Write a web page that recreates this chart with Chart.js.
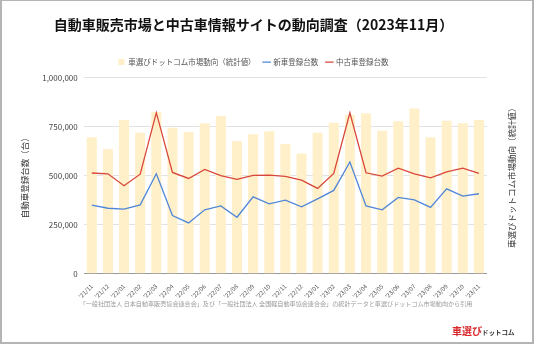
<!DOCTYPE html>
<html>
<head>
<meta charset="utf-8">
<script src="https://cdn.jsdelivr.net/npm/chart.js@4"></script>
<style>
  body { margin: 0; background: #fff; }
  #wrap { position: relative; width: 536px; height: 345px; font-family: "Noto Sans CJK JP", sans-serif; }
  #frame { position: absolute; left: 0; top: 0; width: 534px; height: 344px; border: 1px solid #b4b4b4; border-width: 1px 2px 2px 2px; box-sizing: border-box; pointer-events: none; }
  #source { position: absolute; left: 0; width: 552px; top: 299px; text-align: center; font-size: 6.1px; color: #999; }
  #logo { position: absolute; left: 452px; top: 316px; font-weight: bold; white-space: nowrap; }
  #logo .a { color: #d8262a; font-size: 10px; }
  #logo .b { color: #333; font-size: 6.5px; }
</style>
</head>
<body>
<div id="wrap">
  <canvas id="chart" width="536" height="345"></canvas>
  <div id="source">「一般社団法人 日本自動車販売協会連合会」及び「一般社団法人 全国軽自動車協会連合会」の統計データと車選びドットコム市場動向から引用</div>
  <div id="logo"><span class="a">車選び</span><span class="b">ドットコム</span></div>
  <div id="frame"></div>
</div>
<script>
const months = ["'21/11", "'21/12", "'22/01", "'22/02", "'22/03", "'22/04", "'22/05", "'22/06", "'22/07", "'22/08", "'22/09", "'22/10", "'22/11", "'22/12",
    "'23/01", "'23/02", "'23/03", "'23/04", "'23/05", "'23/06", "'23/07", "'23/08", "'23/09", "'23/10", "'23/11"];

// 車選びドットコム市場動向（統計値）
const marketTrend = [696000, 636000, 785000, 720000, 826000, 745000, 723000, 768000, 805000, 677000, 712000, 727000, 662000, 614000,
    720000, 771000, 810000, 819000, 730000, 778000, 843000, 696000, 781000, 768000, 785000];
// 新車登録台数
const newCars = [350000, 334000, 329000, 351000, 510000, 297000, 259000, 326000, 346000, 288000, 392000, 356000, 375000, 341000,
    382000, 425000, 570000, 346000, 326000, 389000, 377000, 338000, 433000, 396000, 408000];
// 中古車登録台数
const usedCars = [514000, 510000, 449000, 508000, 822000, 517000, 486000, 532000, 500000, 481000, 502000, 503000, 497000, 477000,
    435000, 512000, 821000, 515000, 498000, 539000, 510000, 489000, 520000, 539000, 512000];

const yTicks = [0, 250000, 500000, 750000, 1000000];

// right side title, reads bottom to top like the left one
const rightTitle = {
    id: 'rightTitle',
    afterInit(chart) {
        // a bit more room under the legend
        const fit = chart.legend.fit;
        chart.legend.fit = function () {
            fit.call(this);
            this.height += 2;
        };
    },
    afterDraw(chart) {
        const ctx = chart.ctx;
        ctx.save();
        ctx.translate(512, chart.chartArea.top + (chart.chartArea.bottom - chart.chartArea.top) / 2);
        ctx.rotate(-Math.PI / 2);
        ctx.font = '8.5px "Noto Sans CJK JP"';
        ctx.fillStyle = '#333';
        ctx.textAlign = 'center';
        ctx.textBaseline = 'middle';
        ctx.fillText('車選びドットコム市場動向（統計値）', 0, 0);
        ctx.restore();
    }
};

Chart.defaults.font.family = '"Noto Sans CJK JP", sans-serif';
Chart.defaults.animation = false;

const ctx = document.getElementById('chart').getContext('2d');

new Chart(ctx, {
    data: {
        labels: months,
        datasets: [
            {
                type: 'line',
                label: '新車登録台数',
                data: newCars,
                borderColor: '#4f86d9',
                backgroundColor: '#4f86d9',
                borderWidth: 1.3,
                pointRadius: 0,
                pointStyle: 'line',
                tension: 0,
                order: 1
            },
            {
                type: 'line',
                label: '中古車登録台数',
                data: usedCars,
                borderColor: '#d9473a',
                backgroundColor: '#d9473a',
                borderWidth: 1.3,
                pointRadius: 0,
                pointStyle: 'line',
                tension: 0,
                order: 0
            },
            {
                type: 'bar',
                label: '車選びドットコム市場動向（統計値）',
                data: marketTrend,
                backgroundColor: '#fff0c9',
                pointStyle: 'rect',
                barPercentage: 0.62,
                categoryPercentage: 1,
                order: 2
            }
        ]
    },
    options: {
        responsive: false,
        layout: { padding: { left: 20, right: 49, top: 5, bottom: 44 } },
        plugins: {
            title: {
                display: true,
                text: '自動車販売市場と中古車情報サイトの動向調査（2023年11月）',
                color: '#111',
                font: { size: 14, weight: 'bold' },
                padding: { top: 11.5, bottom: 17 }
            },
            legend: {
                reverse: true,
                labels: {
                    usePointStyle: true,
                    boxWidth: 6,
                    boxHeight: 6,
                    padding: 8,
                    color: '#555',
                    font: { size: 7.5 }
                }
            },
            tooltip: { enabled: false }
        },
        scales: {
            x: {
                grid: { display: false },
                border: { display: false },
                ticks: {
                    color: '#555',
                    font: { size: 6 },
                    maxRotation: 45,
                    minRotation: 45,
                    autoSkip: false,
                    padding: 1
                }
            },
            y: {
                min: 0,
                max: 1000000,
                afterBuildTicks: axis => { axis.ticks = yTicks.map(v => ({ value: v })); },
                grid: {
                    color: c => c.tick.value === 0 ? '#999' : '#e2e2e2',
                    drawTicks: false
                },
                border: { display: false },
                ticks: {
                    color: '#444',
                    font: { size: 8 },
                    padding: 6,
                    callback: v => v.toLocaleString('en-US')
                },
                title: {
                    display: true,
                    text: '自動車登録台数（台）',
                    color: '#333',
                    font: { size: 8.5 },
                    padding: { top: 0, bottom: 6 }
                }
            }
        }
    },
    plugins: [rightTitle]
});
</script>
</body>
</html>
